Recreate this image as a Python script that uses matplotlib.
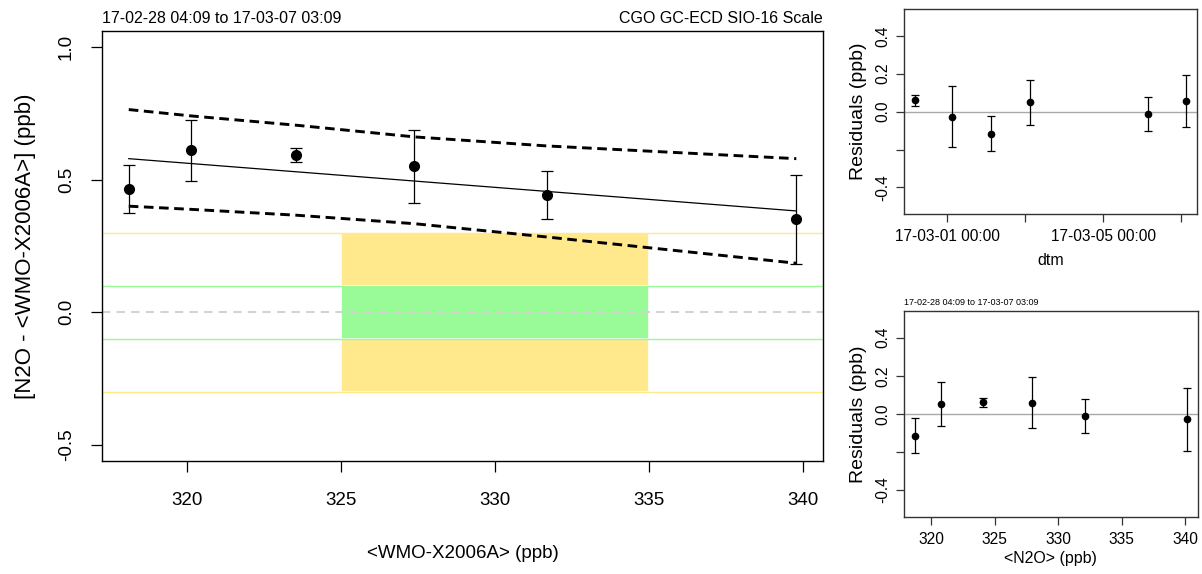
import numpy as np
import matplotlib
matplotlib.use("Agg")
import matplotlib.pyplot as plt
import matplotlib.dates as mdates
from datetime import datetime

plt.rcParams['font.family'] = ['Liberation Sans', 'DejaVu Sans']

# main panel: standard vs. difference
wmo = [318.11, 320.14, 323.55, 327.39, 331.68, 339.79]
diff = [0.464, 0.611, 0.593, 0.550, 0.441, 0.350]
diff_err = [0.090, 0.115, 0.025, 0.138, 0.090, 0.167]
fit_x = [318.11, 339.79]
fit_y = [0.579, 0.382]
band_hi = [0.764, 0.740, 0.705, 0.661, 0.627, 0.579]
band_lo = [0.400, 0.388, 0.366, 0.334, 0.284, 0.185]

# residuals vs time
times = ['17-02-28 04:09', '17-03-01 03:17', '17-03-02 03:05',
         '17-03-03 02:52', '17-03-06 03:29', '17-03-07 03:09']
res_t = [0.060, -0.026, -0.116, 0.049, -0.014, 0.056]
err_t = [0.030, 0.163, 0.092, 0.117, 0.090, 0.138]

# residuals vs N2O
n2o = [318.70, 320.73, 324.11, 327.93, 332.12, 340.16]
res_n = [-0.115, 0.050, 0.060, 0.058, -0.013, -0.028]
err_n = [0.093, 0.115, 0.025, 0.133, 0.090, 0.165]

title_l = "17-02-28 04:09 to 17-03-07 03:09"
title_r = "CGO GC-ECD SIO-16 Scale"

YEL = '#FFE98C'
GRN = '#98FB98'


def rpad(lo, hi):
	d = (hi - lo) * 0.04
	return lo - d, hi + d


fig = plt.figure(figsize=(12.02, 5.74), dpi=100)

# ---------- main panel ----------
ax = fig.add_axes([0.0849, 0.1969, 0.5998, 0.7491])
ax.fill_between([325, 335], -0.3, 0.3, color=YEL, lw=1.2, edgecolor='white', zorder=1)
ax.fill_between([325, 335], -0.1, 0.1, color=GRN, lw=1.2, edgecolor='white', zorder=1)
for v in (0.3, -0.3):
	ax.axhline(v, color=YEL, lw=1, zorder=1.5)
for v in (0.1, -0.1):
	ax.axhline(v, color=GRN, lw=1, zorder=1.5)
ax.axhline(0, color='#D3D3D3', lw=1.5, dashes=(4, 3), zorder=1.6)

ax.plot(wmo, band_hi, color='black', lw=2.1, dashes=(3.3, 1.9), zorder=3)
ax.plot(wmo, band_lo, color='black', lw=2.1, dashes=(3.3, 1.9), zorder=3)
ax.plot(fit_x, fit_y, color='black', lw=0.9, zorder=3)
ax.errorbar(wmo, diff, yerr=diff_err, fmt='o', color='black', ms=7,
			elinewidth=0.9, capsize=4.2, capthick=0.9, zorder=4)

ax.set_xlim(*rpad(min(wmo), max(wmo)))
ax.set_ylim(*rpad(-0.5, 1.0))
ax.set_xticks([320, 325, 330, 335, 340])
ax.set_yticks([-0.5, 0.0, 0.5, 1.0])
ax.set_yticklabels(['-0.5', '0.0', '0.5', '1.0'], rotation=90, va='center')
ax.tick_params(axis='x', length=8, width=0.9, pad=14, labelsize=13.5)
ax.tick_params(axis='y', length=8, width=0.9, pad=11.5, labelsize=13.5)
ax.set_xlabel('<WMO-X2006A> (ppb)', fontsize=13.5, labelpad=26)
ax.set_ylabel('[N2O - <WMO-X2006A>] (ppb)', fontsize=16, labelpad=16)
for s in ax.spines.values():
	s.set_linewidth(1)
ax.text(0, 1.012, title_l, transform=ax.transAxes, ha='left', va='bottom', fontsize=11.5)
ax.text(1, 1.012, title_r, transform=ax.transAxes, ha='right', va='bottom', fontsize=11.5)


def small_axes(a):
	a.axhline(0, color='#A9A9A9', lw=1, zorder=1)
	a.set_ylim(*rpad(-0.5, 0.5))
	a.set_yticks([-0.4, -0.2, 0.0, 0.2, 0.4])
	a.set_yticklabels(['-0.4', '', '0.0', '0.2', '0.4'], rotation=90, va='center')
	a.tick_params(axis='both', length=6, width=0.9, labelsize=11.2, color='#333333')
	a.tick_params(axis='x', pad=5)
	a.tick_params(axis='y', pad=4)
	a.set_ylabel('Residuals (ppb)', fontsize=14, labelpad=6)
	for s in a.spines.values():
		s.set_linewidth(1)
		s.set_color('#333333')


# ---------- residuals vs time ----------
ax2 = fig.add_axes([0.7521, 0.6272, 0.2438, 0.3566])
tnum = mdates.date2num([datetime.strptime(t, '%y-%m-%d %H:%M') for t in times])
ax2.errorbar(tnum, res_t, yerr=err_t, fmt='o', color='black', ms=4.5,
			 elinewidth=0.9, capsize=2.6, capthick=0.9, zorder=3)
small_axes(ax2)
ax2.set_xlim(*rpad(tnum.min(), tnum.max()))
tick_days = ['17-03-01', '17-03-03', '17-03-05', '17-03-07']
ax2.set_xticks(mdates.date2num([datetime.strptime(d, '%y-%m-%d') for d in tick_days]))
ax2.set_xticklabels(['17-03-01 00:00', '', '17-03-05 00:00', ''])
ax2.set_xlabel('dtm', fontsize=11.5, labelpad=6)

# ---------- residuals vs N2O ----------
ax3 = fig.add_axes([0.7521, 0.0998, 0.2444, 0.3584])
ax3.errorbar(n2o, res_n, yerr=err_n, fmt='o', color='black', ms=4.5,
			 elinewidth=0.9, capsize=2.6, capthick=0.9, zorder=3)
small_axes(ax3)
ax3.set_xlim(*rpad(min(n2o), max(n2o)))
ax3.set_xticks([320, 325, 330, 335, 340])
ax3.set_xlabel('<N2O> (ppb)', fontsize=11.5, labelpad=3)
ax3.text(0, 1.02, title_l, transform=ax3.transAxes, ha='left', va='bottom', fontsize=6.5)

fig.savefig('out.png', dpi=100)
